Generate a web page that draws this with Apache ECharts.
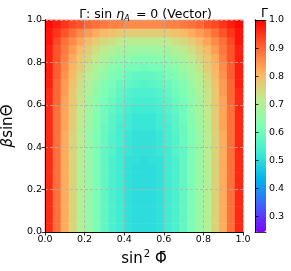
<!DOCTYPE html>
<html><head><meta charset="utf-8">
<script src="https://cdn.jsdelivr.net/npm/echarts@6/dist/echarts.min.js"></script>
<style>html,body{margin:0;padding:0;background:#fff}#c{width:291px;height:271px}</style>
</head><body><div id="c"></div>
<script>
// sin^2(Phi) cell centres and beta*sin(Theta) cell centres
const xCenters = [0.02,0.06,0.10,0.14,0.18,0.22,0.26,0.30,0.34,0.38,0.42,0.46,0.50,0.54,0.58,0.62,0.66,0.70,0.74,0.78,0.82,0.86,0.90,0.94,0.98];
const yCenters = [0.02,0.06,0.10,0.14,0.18,0.22,0.26,0.30,0.34,0.38,0.42,0.46,0.50,0.54,0.58,0.62,0.66,0.70,0.74,0.78,0.82,0.86,0.90,0.94,0.98];
const axisTicks = [0, 0.2, 0.4, 0.6, 0.8, 1.0];
const colorbarTicks = [0.3, 0.4, 0.5, 0.6, 0.7, 0.8, 0.9, 1.0];
const colorMin = 0.245, colorMax = 1.0;
// Gamma values, row 0 = bottom (beta sin Theta = 0.02)
const gammaRows = [
[0.96,0.89,0.82,0.76,0.70,0.66,0.62,0.58,0.55,0.53,0.51,0.50,0.50,0.50,0.51,0.53,0.55,0.58,0.62,0.66,0.70,0.76,0.82,0.89,0.96],
[0.96,0.89,0.82,0.76,0.70,0.66,0.62,0.58,0.55,0.53,0.51,0.50,0.50,0.50,0.51,0.53,0.55,0.58,0.62,0.66,0.70,0.76,0.82,0.89,0.96],
[0.96,0.89,0.82,0.76,0.70,0.66,0.62,0.58,0.55,0.53,0.51,0.50,0.50,0.50,0.51,0.53,0.55,0.58,0.62,0.66,0.70,0.76,0.82,0.89,0.96],
[0.96,0.89,0.82,0.76,0.70,0.66,0.62,0.58,0.55,0.53,0.51,0.50,0.50,0.50,0.51,0.53,0.55,0.58,0.62,0.66,0.70,0.76,0.82,0.89,0.96],
[0.96,0.89,0.82,0.76,0.70,0.66,0.62,0.58,0.55,0.53,0.51,0.50,0.50,0.50,0.51,0.53,0.55,0.58,0.62,0.66,0.70,0.76,0.82,0.89,0.96],
[0.96,0.89,0.82,0.76,0.70,0.66,0.62,0.58,0.55,0.53,0.51,0.50,0.50,0.50,0.51,0.53,0.55,0.58,0.62,0.66,0.70,0.76,0.82,0.89,0.96],
[0.96,0.89,0.82,0.76,0.70,0.66,0.62,0.58,0.55,0.53,0.51,0.50,0.50,0.50,0.51,0.53,0.55,0.58,0.62,0.66,0.70,0.76,0.82,0.89,0.96],
[0.96,0.89,0.82,0.76,0.70,0.66,0.62,0.58,0.55,0.53,0.51,0.50,0.50,0.50,0.51,0.53,0.55,0.58,0.62,0.66,0.70,0.76,0.82,0.89,0.96],
[0.96,0.89,0.82,0.76,0.71,0.66,0.62,0.58,0.55,0.53,0.51,0.51,0.50,0.51,0.51,0.53,0.55,0.58,0.62,0.66,0.71,0.76,0.82,0.89,0.96],
[0.96,0.89,0.82,0.76,0.71,0.66,0.62,0.58,0.56,0.53,0.52,0.51,0.51,0.51,0.52,0.53,0.56,0.58,0.62,0.66,0.71,0.76,0.82,0.89,0.96],
[0.96,0.89,0.82,0.76,0.71,0.66,0.62,0.59,0.56,0.54,0.52,0.51,0.51,0.51,0.52,0.54,0.56,0.59,0.62,0.66,0.71,0.76,0.82,0.89,0.96],
[0.96,0.89,0.82,0.76,0.71,0.66,0.62,0.59,0.56,0.54,0.52,0.51,0.51,0.51,0.52,0.54,0.56,0.59,0.62,0.66,0.71,0.76,0.82,0.89,0.96],
[0.96,0.89,0.83,0.77,0.71,0.67,0.63,0.59,0.57,0.54,0.53,0.52,0.52,0.52,0.53,0.54,0.57,0.59,0.63,0.67,0.71,0.77,0.83,0.89,0.96],
[0.96,0.89,0.83,0.77,0.72,0.67,0.63,0.60,0.57,0.55,0.53,0.52,0.52,0.52,0.53,0.55,0.57,0.60,0.63,0.67,0.72,0.77,0.83,0.89,0.96],
[0.96,0.89,0.83,0.77,0.72,0.68,0.64,0.60,0.58,0.56,0.54,0.53,0.53,0.53,0.54,0.56,0.58,0.60,0.64,0.68,0.72,0.77,0.83,0.89,0.96],
[0.96,0.90,0.83,0.78,0.73,0.68,0.64,0.61,0.59,0.57,0.55,0.54,0.54,0.54,0.55,0.57,0.59,0.61,0.64,0.68,0.73,0.78,0.83,0.90,0.96],
[0.96,0.90,0.84,0.78,0.73,0.69,0.65,0.62,0.60,0.58,0.56,0.55,0.55,0.55,0.56,0.58,0.60,0.62,0.65,0.69,0.73,0.78,0.84,0.90,0.96],
[0.97,0.90,0.84,0.79,0.74,0.70,0.66,0.63,0.61,0.59,0.58,0.57,0.56,0.57,0.58,0.59,0.61,0.63,0.66,0.70,0.74,0.79,0.84,0.90,0.97],
[0.97,0.91,0.85,0.80,0.75,0.71,0.68,0.65,0.62,0.61,0.59,0.58,0.58,0.58,0.59,0.61,0.62,0.65,0.68,0.71,0.75,0.80,0.85,0.91,0.97],
[0.97,0.91,0.86,0.81,0.77,0.73,0.69,0.67,0.64,0.63,0.61,0.61,0.60,0.61,0.61,0.63,0.64,0.67,0.69,0.73,0.77,0.81,0.86,0.91,0.97],
[0.97,0.92,0.87,0.82,0.78,0.75,0.72,0.69,0.67,0.65,0.64,0.63,0.63,0.63,0.64,0.65,0.67,0.69,0.72,0.75,0.78,0.82,0.87,0.92,0.97],
[0.97,0.92,0.88,0.84,0.80,0.77,0.74,0.72,0.70,0.68,0.67,0.67,0.66,0.67,0.67,0.68,0.70,0.72,0.74,0.77,0.80,0.84,0.88,0.92,0.97],
[0.98,0.93,0.89,0.86,0.83,0.80,0.77,0.75,0.74,0.72,0.71,0.71,0.71,0.71,0.71,0.72,0.74,0.75,0.77,0.80,0.83,0.86,0.89,0.93,0.98],
[0.98,0.95,0.92,0.89,0.86,0.84,0.82,0.80,0.79,0.78,0.77,0.77,0.77,0.77,0.77,0.78,0.79,0.80,0.82,0.84,0.86,0.89,0.92,0.95,0.98],
[0.99,0.97,0.95,0.93,0.92,0.90,0.89,0.88,0.87,0.87,0.86,0.86,0.86,0.86,0.86,0.87,0.87,0.88,0.89,0.90,0.92,0.93,0.95,0.97,0.99]
];
// matplotlib 'rainbow' colormap samples
const rainbow = ['#8000ff','#4062fa','#00b5eb','#40ecd4','#80ffb4','#bfec8e','#ffb462','#ff6232','#ff0000'];

const heatData = [];
gammaRows.forEach((row, j) => row.forEach((v, i) => heatData.push([i, j, v])));

const FONT = 'DejaVu Sans';
const black = '#000';
const frameLine = {show: true, lineStyle: {color: black, width: 0.8}};
const fmt = v => v.toFixed(1);

const chart = echarts.init(document.getElementById('c'), null, {renderer: 'canvas'});
chart.setOption({
  animation: false,
  textStyle: {fontFamily: FONT},
  title: [{
    text: '{r|Γ: sin }{i|η}{s|A}{r| = 0 (Vector)}',
    left: 'center', top: 1,
    textStyle: {
      fontWeight: 'normal',
      rich: {
        r: {fontFamily: FONT, fontSize: 12.5, fontWeight: 'normal', color: black},
        i: {fontFamily: FONT, fontSize: 12.5, fontWeight: 'normal', fontStyle: 'italic', color: black},
        s: {fontFamily: FONT, fontSize: 8.5, fontWeight: 'normal', fontStyle: 'italic', color: black, padding: [8, 2, 0, 0]}
      }
    }
  }, {
    text: 'Γ', left: 256, top: 2,
    textStyle: {fontFamily: FONT, fontSize: 12.5, fontWeight: 'normal', color: black}
  }],
  grid: [
    {left: 45, right: 48, top: 20, bottom: 39, outerBoundsMode: 'none', containLabel: false},
    {left: 45, right: 48, top: 20, bottom: 39, outerBoundsMode: 'none', containLabel: false},
    {left: 255, width: 11, top: 20, height: 212, outerBoundsMode: 'none', containLabel: false}
  ],
  xAxis: [
    {type: 'category', gridIndex: 0, data: xCenters, show: false},
    {type: 'value', gridIndex: 1, min: 0, max: 1, interval: 0.2, position: 'bottom', z: 10,
      axisLine: frameLine,
      axisTick: {show: true, length: 3.5, lineStyle: {color: black, width: 0.8}},
      axisLabel: {fontFamily: FONT, fontSize: 9.5, color: black, margin: 3, formatter: fmt},
      splitLine: {show: true, lineStyle: {color: '#b0b0b0', width: 0.8, type: [3, 2]}},
      name: '{t|sin}{p|2}{t| Φ̄}', nameLocation: 'middle', nameGap: 17,
      nameTextStyle: {rich: {
        t: {fontFamily: FONT, fontSize: 15, color: black},
        p: {fontFamily: FONT, fontSize: 10, color: black, padding: [0, 0, 9, 1]}
      }}
    },
    {type: 'value', gridIndex: 1, min: 0, max: 1, position: 'top', z: 10,
      axisLine: frameLine, axisTick: {show: false}, axisLabel: {show: false}, splitLine: {show: false}},
    {type: 'value', gridIndex: 2, min: 0, max: 1, position: 'bottom', z: 10,
      axisLine: frameLine, axisTick: {show: false}, axisLabel: {show: false}, splitLine: {show: false}},
    {type: 'value', gridIndex: 2, min: 0, max: 1, position: 'top', z: 10,
      axisLine: frameLine, axisTick: {show: false}, axisLabel: {show: false}, splitLine: {show: false}}
  ],
  yAxis: [
    {type: 'category', gridIndex: 0, data: yCenters, show: false},
    {type: 'value', gridIndex: 1, min: 0, max: 1, interval: 0.2, position: 'left', z: 10,
      axisLine: frameLine,
      axisTick: {show: true, length: 3.5, lineStyle: {color: black, width: 0.8}},
      axisLabel: {fontFamily: FONT, fontSize: 9.5, color: black, margin: 3, formatter: fmt},
      splitLine: {show: true, lineStyle: {color: '#b0b0b0', width: 0.8, type: [3, 2]}},
      name: '{b|β}{t|sinΘ}', nameLocation: 'middle', nameGap: 22, nameRotate: 90,
      nameTextStyle: {rich: {
        b: {fontFamily: FONT, fontSize: 15, fontStyle: 'italic', color: black},
        t: {fontFamily: FONT, fontSize: 15, color: black}
      }}
    },
    {type: 'value', gridIndex: 1, min: 0, max: 1, position: 'right', z: 10,
      axisLine: frameLine, axisTick: {show: false}, axisLabel: {show: false}, splitLine: {show: false}},
    {type: 'value', gridIndex: 2, min: colorMin, max: colorMax, position: 'right', z: 10,
      axisLine: frameLine,
      axisTick: {show: true, length: 3.5, lineStyle: {color: black, width: 0.8}, customValues: colorbarTicks},
      axisLabel: {fontFamily: FONT, fontSize: 9.5, color: black, margin: 3, formatter: fmt, customValues: colorbarTicks},
      splitLine: {show: false}},
    {type: 'value', gridIndex: 2, min: colorMin, max: colorMax, position: 'left', z: 10,
      axisLine: frameLine, axisTick: {show: false}, axisLabel: {show: false}, splitLine: {show: false}}
  ],
  visualMap: {
    type: 'continuous', min: colorMin, max: colorMax, seriesIndex: 0,
    orient: 'vertical', left: 255, top: 20, itemWidth: 11, itemHeight: 212,
    padding: 0, calculable: false, showLabel: false, text: null,
    inRange: {color: rainbow}
  },
  series: [{
    type: 'heatmap', xAxisIndex: 0, yAxisIndex: 0, data: heatData,
    progressive: 0, emphasis: {disabled: true},
    itemStyle: {borderWidth: 0}
  }]
});
</script></body></html>
